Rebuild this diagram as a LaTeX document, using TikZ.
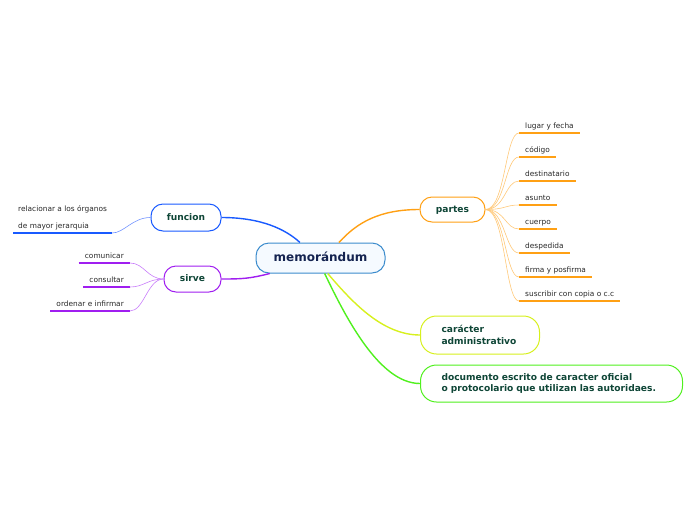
\documentclass[tikz,border=0pt]{standalone}
\usepackage{fontspec}
\setmainfont{DejaVu Sans}
\usetikzlibrary{positioning}
\definecolor{memoBlue}{RGB}{60,140,205}
\definecolor{memoFill}{RGB}{245,250,255}
\definecolor{memoText}{RGB}{20,35,80}
\definecolor{topicText}{RGB}{15,70,55}
\definecolor{leafText}{RGB}{40,40,40}
\definecolor{funcBlue}{RGB}{25,90,255}
\definecolor{funcTwig}{RGB}{110,145,255}
\definecolor{sirvePurple}{RGB}{160,30,240}
\definecolor{sirveTwig}{RGB}{200,125,250}
\definecolor{partOrange}{RGB}{255,160,20}
\definecolor{partTwig}{RGB}{255,200,120}
\definecolor{carYellow}{RGB}{215,240,30}
\definecolor{docGreen}{RGB}{80,240,30}

\begin{document}
\begin{tikzpicture}[x=1pt, y=-1pt,
    central/.style={draw=memoBlue, line width=1pt, fill=memoFill, rounded corners=13pt, text=memoText, font=\bfseries\fontsize{12}{14}\selectfont, inner sep=0pt, text height=8.5pt, text depth=2.5pt},
    topic/.style={draw, line width=1pt, fill=white, rounded corners=12pt, text=topicText, font=\bfseries\fontsize{9.1}{11.5}\selectfont, inner sep=0pt},
    oneline/.style={text height=7pt, text depth=2pt},
    leaf/.style={text=leafText, font=\fontsize{7.4}{8}\selectfont, inner xsep=6pt, inner ysep=3pt, text height=5pt, text depth=1.5pt},
    uline/.style={line width=2pt},
    branch/.style={line width=1.4pt},
    twig/.style={line width=0.6pt}]
      \useasboundingbox (0,0) rectangle (696,520);
      % central topic
      \node[central, minimum width=129pt, minimum height=30pt] (memo) at (320.5,258) {memorándum};
      % main topics
      \node[topic, oneline, draw=funcBlue, minimum width=70pt, minimum height=27pt] (funcion) at (186,217.5) {funcion};
      \node[topic, oneline, draw=sirvePurple, minimum width=57pt, minimum height=26pt] (sirve) at (192.5,279) {sirve};
      \node[topic, oneline, draw=partOrange, minimum width=65pt, minimum height=25pt] (partes) at (452.5,209.5) {partes};
      \node[topic, draw=carYellow, anchor=west, text width=77pt, align=left, inner xsep=21pt, minimum height=38pt, rounded corners=16pt] (caracter) at (420,335) {carácter\\administrativo};
      \node[topic, draw=docGreen, anchor=west, text width=220pt, align=left, inner xsep=21pt, minimum height=37pt, rounded corners=16pt] (documento) at (420,383.5) {documento escrito de caracter oficial\\o protocolario que utilizan las autoridaes.};
      % main branches
      \draw[branch, funcBlue] (memo.143) .. controls +(-14,-13) and +(40,0) .. (funcion.east);
      \draw[branch, sirvePurple] (memo.197) .. controls +(-20,5) and +(22,0) .. (sirve.east);
      \draw[branch, partOrange] (memo.40) .. controls +(18,-20) and +(-40,0) .. (partes.west);
      \draw[branch, carYellow] (memo.295) .. controls +(24,28) and +(-38,0) .. (caracter.west);
      \draw[branch, docGreen] (memo.285) .. controls +(22,46) and +(-40,0) .. (documento.west);
      % funcion leaf
      \node[text=leafText, font=\fontsize{7.4}{8}\selectfont, anchor=south west, align=left, inner xsep=5pt, inner ysep=3pt] (relac) at (13,233) {relacionar a los órganos\\[9pt]de mayor jerarquia};
      \draw[uline, funcBlue] (relac.south west) -- (relac.south east);
      \draw[twig, funcTwig] (funcion.west) .. controls +(-18,0) and +(12,0) .. (relac.south east);
      % sirve leaves
      \node[leaf, anchor=south east] (comun) at (130,263) {comunicar};
      \node[leaf, anchor=south east] (consul) at (130,287) {consultar};
      \node[leaf, anchor=south east] (ordenar) at (130,311) {ordenar e infirmar};
      \draw[uline, sirvePurple] (comun.south west) -- (comun.south east);
      \draw[uline, sirvePurple] (consul.south west) -- (consul.south east);
      \draw[uline, sirvePurple] (ordenar.south west) -- (ordenar.south east);
      \draw[twig, sirveTwig] (sirve.west) .. controls +(-16,0) and +(14,0) .. (comun.south east);
      \draw[twig, sirveTwig] (sirve.west) .. controls +(-16,0) and +(14,0) .. (consul.south east);
      \draw[twig, sirveTwig] (sirve.west) .. controls +(-16,0) and +(14,0) .. (ordenar.south east);
      % partes leaves
      \node[leaf, anchor=south west] (lugar) at (519,133) {lugar y fecha};
      \node[leaf, anchor=south west] (codigo) at (519,157) {código};
      \node[leaf, anchor=south west] (destin) at (519,181) {destinatario};
      \node[leaf, anchor=south west] (asunto) at (519,205) {asunto};
      \node[leaf, anchor=south west] (cuerpo) at (519,229) {cuerpo};
      \node[leaf, anchor=south west] (desped) at (519,253) {despedida};
      \node[leaf, anchor=south west] (firma) at (519,277) {firma y posfirma};
      \node[leaf, anchor=south west] (suscr) at (519,301) {suscribir con copia o c.c};
      \draw[uline, partOrange] (lugar.south west) -- (lugar.south east);
      \draw[uline, partOrange] (codigo.south west) -- (codigo.south east);
      \draw[uline, partOrange] (destin.south west) -- (destin.south east);
      \draw[uline, partOrange] (asunto.south west) -- (asunto.south east);
      \draw[uline, partOrange] (cuerpo.south west) -- (cuerpo.south east);
      \draw[uline, partOrange] (desped.south west) -- (desped.south east);
      \draw[uline, partOrange] (firma.south west) -- (firma.south east);
      \draw[uline, partOrange] (suscr.south west) -- (suscr.south east);
      \draw[twig, partTwig] (partes.east) .. controls +(20,0) and +(-14,0) .. (lugar.south west);
      \draw[twig, partTwig] (partes.east) .. controls +(20,0) and +(-14,0) .. (codigo.south west);
      \draw[twig, partTwig] (partes.east) .. controls +(20,0) and +(-14,0) .. (destin.south west);
      \draw[twig, partTwig] (partes.east) .. controls +(20,0) and +(-14,0) .. (asunto.south west);
      \draw[twig, partTwig] (partes.east) .. controls +(20,0) and +(-14,0) .. (cuerpo.south west);
      \draw[twig, partTwig] (partes.east) .. controls +(20,0) and +(-14,0) .. (desped.south west);
      \draw[twig, partTwig] (partes.east) .. controls +(20,0) and +(-14,0) .. (firma.south west);
      \draw[twig, partTwig] (partes.east) .. controls +(20,0) and +(-14,0) .. (suscr.south west);
\end{tikzpicture}
\end{document}
